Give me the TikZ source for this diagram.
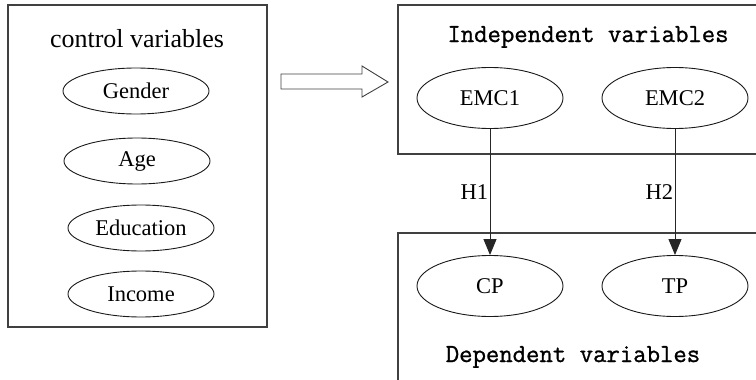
\documentclass[tikz,border=0pt]{standalone}
\usepackage{fontspec}
\setmainfont{Liberation Serif}
\newfontfamily\heavymono{Latin Modern Mono}[FakeBold=1.0]
\usetikzlibrary{shapes.geometric,arrows.meta}
\tikzset{
  frame/.style={draw=black!75, line width=1.1pt},
  var/.style={draw=black!90, line width=0.9pt, ellipse, inner sep=0pt, minimum width=146pt, minimum height=46pt, font=\fontsize{22.5}{24}\selectfont},
  bigvar/.style={var, minimum height=61pt},
  title/.style={anchor=base, font=\fontsize{26}{28}\selectfont},
  monotitle/.style={anchor=base, font=\heavymono\fontsize{26}{28}\selectfont},
  hyp/.style={font=\fontsize{22.5}{24}\selectfont},
  link/.style={draw=black!85, line width=1pt, -{Triangle[length=16pt,width=13pt]}}
}
\begin{document}
\begin{tikzpicture}[x=1pt,y=-1pt]
\useasboundingbox (0,0) rectangle (756,380);
\clip (0,0) rectangle (756,380);
% control variables
\draw[frame] (8,5) rectangle (267,327);
\node[title] (ctitle) at (137,47) {control variables};
\node[var] (gender) at (136,91) {Gender};
\node[var] (age) at (137,161) {Age};
\node[var] (edu) at (141,228) {Education};
\node[var] (income) at (141,294) {Income};
% block arrow
\draw[frame, line width=0.9pt] (281,74) -- (362,74) -- (362,66) -- (388,82) -- (362,97) -- (362,89) -- (281,89) -- cycle;
% independent variables
\draw[frame] (398,5) rectangle (780,154);
\node[monotitle] (ititle) at (588,42) {Independent variables};
\node[bigvar] (emc1) at (490,98) {EMC1};
\node[bigvar] (emc2) at (675,98) {EMC2};
% dependent variables
\draw[frame] (398,233) rectangle (780,420);
\node[bigvar] (cp) at (490,286) {CP};
\node[bigvar] (tp) at (675,286) {TP};
\node[monotitle] (dtitle) at (573,362) {Dependent variables};
% hypotheses
\draw[link] (emc1) -- (cp) node[pos=0.5, left, hyp, xshift=2pt] (h1) {H1};
\draw[link] (emc2) -- (tp) node[pos=0.5, left, hyp, xshift=2pt] (h2) {H2};
\end{tikzpicture}
\end{document}
